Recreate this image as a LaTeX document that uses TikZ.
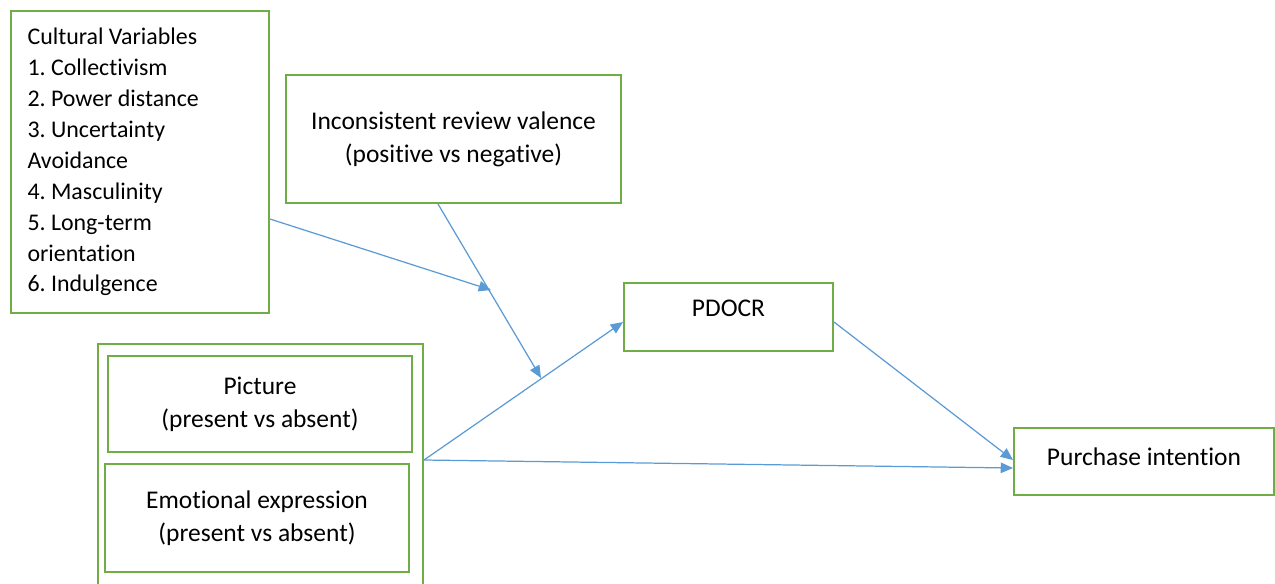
\documentclass[tikz,border=0pt]{standalone}
\usepackage{fontspec}
\setmainfont{Carlito}[Ligatures=NoCommon]
\frenchspacing
\usetikzlibrary{arrows.meta}
\definecolor{boxgreen}{RGB}{112,173,71}
\definecolor{arrowblue}{RGB}{91,155,213}
\tikzset{
  box/.style={draw=boxgreen, line width=1.15pt, rectangle, inner sep=0pt, align=center,
    font=\fontsize{14.5}{18.7}\selectfont},
  conn/.style={draw=arrowblue, line width=0.7pt, -{Triangle[length=7pt,width=6pt]}}
}
\begin{document}
\begin{tikzpicture}[x=0.02cm,y=-0.02cm]
\useasboundingbox (0,0) rectangle (1275,583);
% boxes
\node[box, minimum width=5.16cm, minimum height=6.06cm, align=flush left, text width=4.5cm,
  font=\fontsize{13.6}{17.6}\selectfont] (cult) at (140,162)
  {Cultural Variables\\1. Collectivism\\2. Power distance\\3. Uncertainty\\Avoidance\\4. Masculinity\\5. Long-term\\orientation\\6. Indulgence};
\node[box, minimum width=6.70cm, minimum height=2.56cm] (incon) at (453.5,139)
  {Inconsistent review valence\\(positive vs negative)};
\node[box, minimum width=4.18cm, minimum height=1.36cm, text depth=0.36cm] (pdocr) at (728.5,317) {PDOCR};
\node[box, minimum width=5.20cm, minimum height=1.34cm, text depth=0.2cm] (purch) at (1144,461.5) {Purchase intention};
\node[box, minimum width=6.50cm, minimum height=4.96cm] (group) at (260.5,468) {};
\node[box, minimum width=6.08cm, minimum height=1.92cm] (pic) at (260,404) {Picture\\(present vs absent)};
\node[box, minimum width=6.08cm, minimum height=2.16cm] (emo) at (257,518) {Emotional expression\\(present vs absent)};
% helper coordinates
\coordinate (y219) at (0,219);
\coordinate (x438) at (438,0);
\coordinate (y460) at (0,460);
\coordinate (y322) at (0,322);
\coordinate (y468) at (0,468);
\coordinate (m1) at (491,290);
\coordinate (m2) at (541,378);
% connectors
\draw[conn] (cult.east |- y219) -- (m1);
\draw[conn] (incon.south -| x438) -- (m2);
\draw[conn] (group.east |- y460) -- (pdocr.west |- y322);
\draw[conn] (pdocr.east |- y322) -- (purch.west |- y460);
\draw[conn] (group.east |- y460) -- (purch.west |- y468);
\end{tikzpicture}
\end{document}
